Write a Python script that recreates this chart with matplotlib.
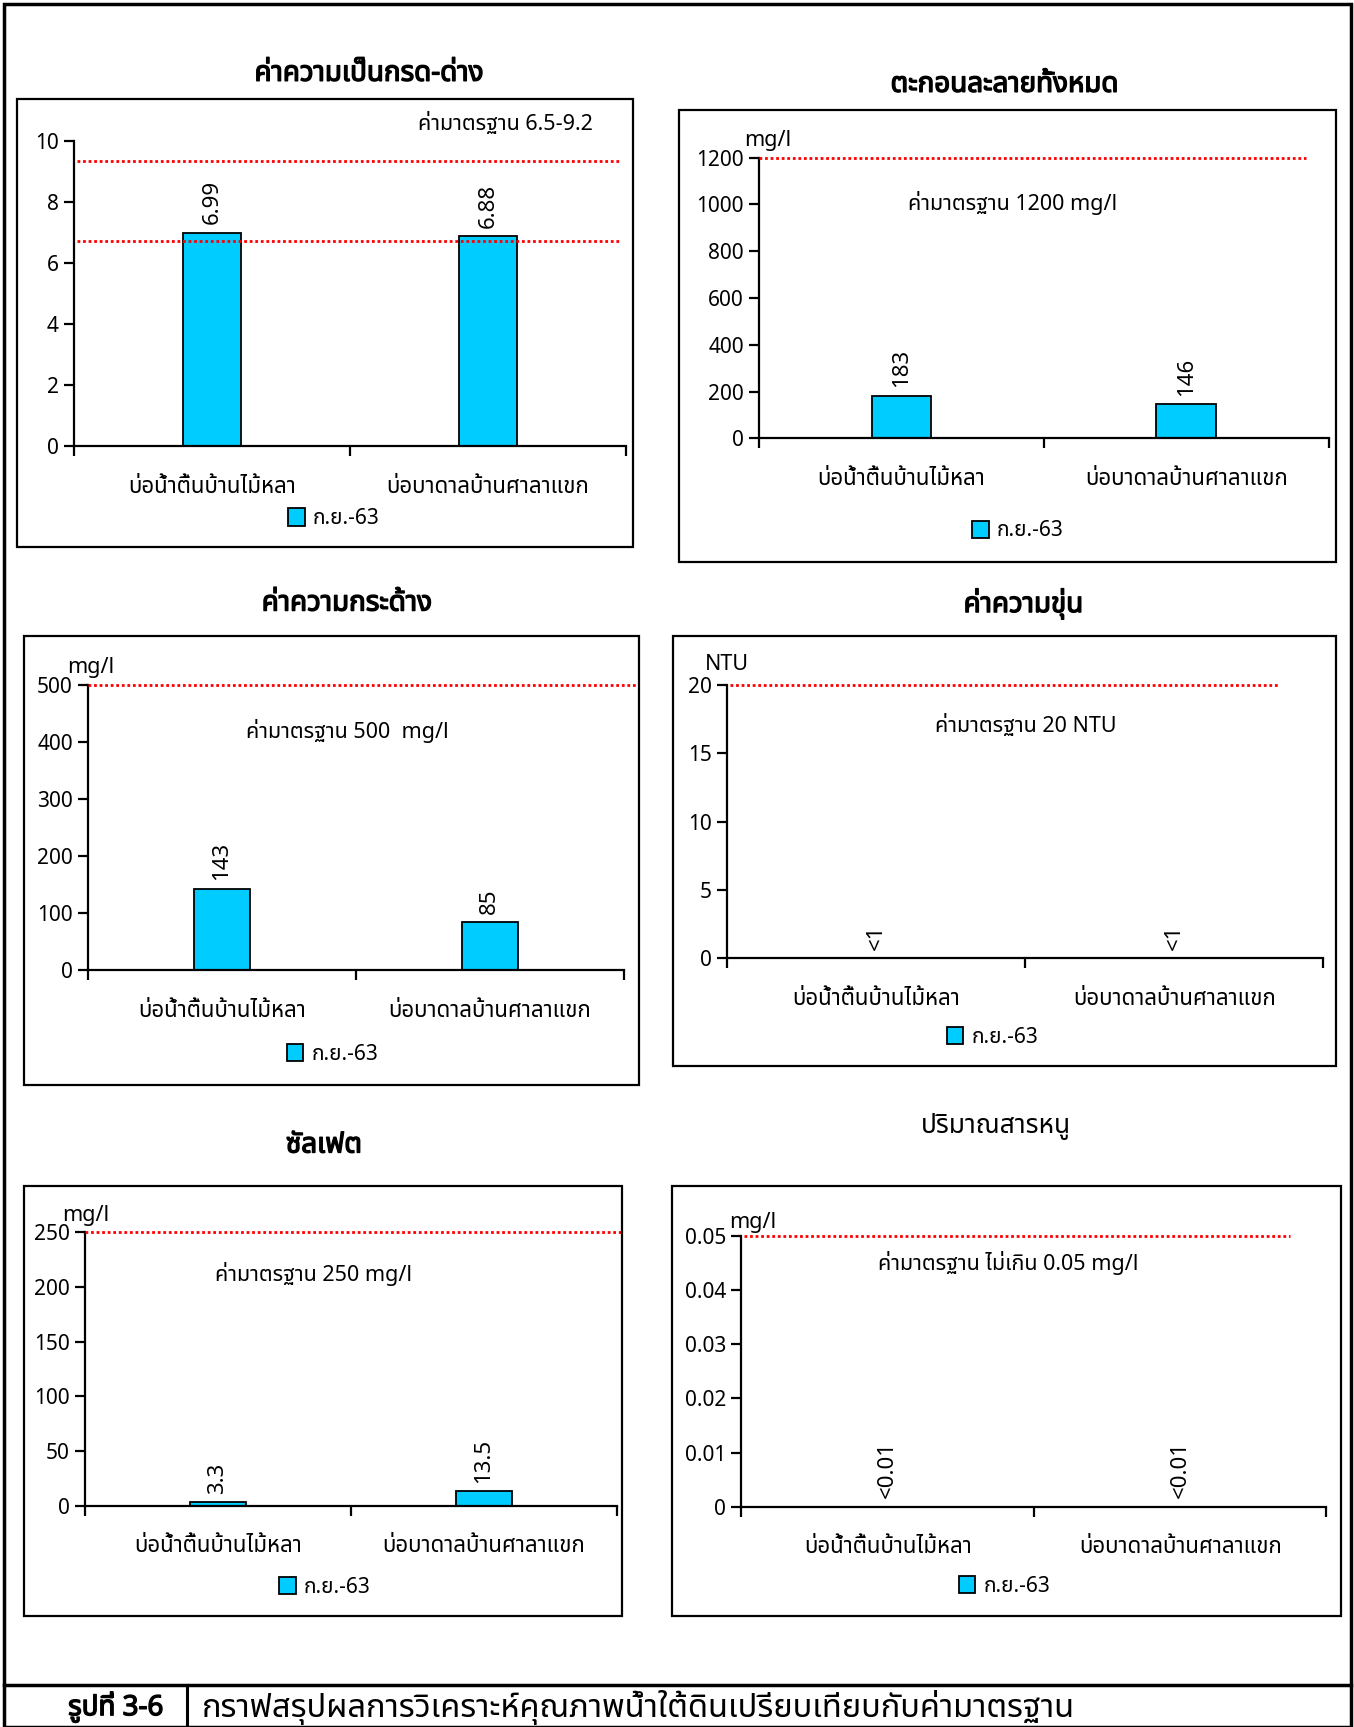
import numpy as np
import matplotlib
matplotlib.use("Agg")
import matplotlib.pyplot as plt
import matplotlib.patheffects as pe
from matplotlib import font_manager
from matplotlib.ft2font import FT2Font
from matplotlib.patches import Rectangle
from matplotlib.lines import Line2D

# ---------------------------------------------------------------------------
# ข้อมูล
# ---------------------------------------------------------------------------
sites = ["บ่อน้ำตื้นบ้านไม้หลา", "บ่อบาดาลบ้านศาลาแขก"]
series_name = "ก.ย.-63"

titles = ["ค่าความเป็นกรด-ด่าง", "ตะกอนละลายทั้งหมด", "ค่าความกระด้าง",
          "ค่าความขุ่น", "ซัลเฟต", "ปริมาณสารหนู"]

ph_values = [6.99, 6.88]
tds_values = [183, 146]
hardness_values = [143, 85]
turbidity_values = [0, 0]          # ต่ำกว่าค่าที่ตรวจวัดได้
sulfate_values = [3.3, 13.5]
arsenic_values = [0, 0]            # ต่ำกว่าค่าที่ตรวจวัดได้

ph_labels = ["6.99", "6.88"]
tds_labels = ["183", "146"]
hardness_labels = ["143", "85"]
turbidity_labels = ["<1", "<1"]
sulfate_labels = ["3.3", "13.5"]
arsenic_labels = ["<0.01", "<0.01"]

standard_lines = [[9.33, 6.73], [1200], [500], [20], [250], [0.05]]
standard_texts = ["ค่ามาตรฐาน 6.5-9.2", "ค่ามาตรฐาน 1200 mg/l",
                  "ค่ามาตรฐาน 500  mg/l", "ค่ามาตรฐาน 20 NTU",
                  "ค่ามาตรฐาน 250 mg/l", "ค่ามาตรฐาน ไม่เกิน 0.05 mg/l"]
units = ["", "mg/l", "mg/l", "NTU", "mg/l", "mg/l"]
y_max = [10, 1200, 500, 20, 250, 0.05]
y_step = [2, 200, 100, 5, 50, 0.01]

caption_no = "รูปที่ 3-6"
caption_text = "กราฟสรุปผลการวิเคราะห์คุณภาพน้ำใต้ดินเปรียบเทียบกับค่ามาตรฐาน"

values = [ph_values, tds_values, hardness_values,
          turbidity_values, sulfate_values, arsenic_values]
labels = [ph_labels, tds_labels, hardness_labels,
          turbidity_labels, sulfate_labels, arsenic_labels]

# ---------------------------------------------------------------------------
# ตำแหน่ง (พิกเซลของภาพอ้างอิงขนาด 1229x1568)
# ---------------------------------------------------------------------------
W, H = 1229.0, 1568.0

axes_px = [(67, 568, 128, 405), (689, 1206, 143, 398),
           (80, 566, 622, 881), (660, 1201, 622, 870),
           (77, 560, 1119, 1367), (673, 1204, 1122, 1368)]
box_px = [(15, 90, 575, 497), (616, 100, 1213, 510),
          (22, 577, 580, 985), (611, 577, 1213, 968),
          (22, 1077, 565, 1467), (610, 1077, 1217, 1467)]
title_px = [(335, 67), (912, 77), (315, 548), (929, 548), (294, 1040), (904, 1022)]
std_px = [(459, 112), (919, 184), (315, 664), (931, 659), (285, 1157), (915, 1147)]
unit_px = [None, (697, 128), (82, 606), (660, 603), (78, 1104), (683, 1110)]
legend_px = [(303, 471), (924, 482), (302, 957), (901, 942), (295, 1441), (912, 1440)]
line_span = [(0.006, 0.99), (0.0, 0.961), (0.0, 1.025),
             (0.004, 0.924), (0.0, 1.008), (0.004, 0.938)]
title_bold = [True, True, True, True, True, False]


def fx(x):
    return x / W


def fy(y):
    return 1 - y / H


# ---------------------------------------------------------------------------
# ฟอนต์ภาษาไทย
# ---------------------------------------------------------------------------
def find_thai_font():
    preferred = ["Noto Sans Thai", "Noto Sans Thai UI", "Garuda", "Loma",
                 "Tlwg Typo", "Waree", "Sawasdee", "Umpush", "Kinnari",
                 "Norasi", "Laksaman"]
    found = {}
    for f in font_manager.fontManager.ttflist:
        try:
            cmap = FT2Font(f.fname).get_charmap()
        except Exception:
            continue
        if 0x0E01 in cmap:
            w = f.weight if isinstance(f.weight, int) else (700 if "bold" in str(f.weight) else 400)
            found.setdefault(f.name, set()).add(w)
    for name in preferred:
        if name in found:
            return name, max(found[name]) >= 600
    if found:
        name = next(iter(found))
        return name, max(found[name]) >= 600
    return "DejaVu Sans", True


thai, has_bold = find_thai_font()
plt.rcParams["font.family"] = [thai, "DejaVu Sans"]


def bold_kw():
    if has_bold:
        return {"fontweight": "bold"}
    # ไม่มีตัวหนา: ใช้เส้นขอบหนาแทน
    return {"path_effects": [pe.withStroke(linewidth=1.0, foreground="black")]}


BAR_COLOR = "#00CCFF"
FS_TICK = 15
FS_LABEL = 16
FS_VALUE = 16
FS_STD = 15.5
FS_LEGEND = 15
FS_TITLE = 20

fig = plt.figure(figsize=(13.54, 17.27), dpi=100)

for i in range(6):
    l, r, t, b = axes_px[i]
    ax = fig.add_axes([fx(l), fy(b), (r - l) / W, (b - t) / H])
    ax.set_facecolor("none")

    x = np.arange(len(sites)) + 0.5
    bars = ax.bar(x, values[i], width=0.21, color=BAR_COLOR,
                  edgecolor="black", linewidth=1.3, label=series_name, zorder=2)
    for xi, vi, lab in zip(x, values[i], labels[i]):
        ax.annotate(lab, (xi, vi), xytext=(0, 6), textcoords="offset points",
                    rotation=90, ha="center", va="bottom", fontsize=FS_VALUE)

    for yv in standard_lines[i]:
        ax.axhline(yv, xmin=line_span[i][0], xmax=line_span[i][1], color="red",
                   linewidth=2, linestyle=(0, (1, 1)), clip_on=False, zorder=3)

    ax.set_xlim(0, 2)
    ax.set_ylim(0, y_max[i])
    ticks = np.arange(0, y_max[i] + y_step[i] / 2, y_step[i])
    ax.set_yticks(ticks)
    ax.set_yticklabels([f"{v:g}" for v in np.round(ticks, 4)], fontsize=FS_TICK)
    ax.set_xticks([0, 1, 2])
    ax.set_xticklabels([])
    ax.set_xticks(x, minor=True)
    ax.set_xticklabels(sites, minor=True, fontsize=FS_LABEL)
    ax.tick_params(axis="x", which="minor", length=0, pad=22)
    ax.tick_params(axis="x", which="major", length=7, width=1.6)
    ax.tick_params(axis="y", length=7, width=1.6, pad=4)
    for side in ["top", "right"]:
        ax.spines[side].set_visible(False)
    for side in ["left", "bottom"]:
        ax.spines[side].set_linewidth(1.6)

    ax.legend(handles=[bars], labels=[series_name], loc="center",
              bbox_to_anchor=(fx(legend_px[i][0]), fy(legend_px[i][1])),
              bbox_transform=fig.transFigure, frameon=False, fontsize=FS_LEGEND,
              handlelength=0.8, handleheight=0.9, handletextpad=0.4,
              borderpad=0, borderaxespad=0)

    # กรอบ, ชื่อกราฟ, ข้อความค่ามาตรฐาน, หน่วย
    x0, y0, x1, y1 = box_px[i]
    fig.patches.append(Rectangle((fx(x0), fy(y1)), (x1 - x0) / W, (y1 - y0) / H,
                                 transform=fig.transFigure, fill=False,
                                 edgecolor="black", linewidth=1.6))
    kw = bold_kw() if title_bold[i] else {}
    fig.text(fx(title_px[i][0]), fy(title_px[i][1]), titles[i], ha="center",
             va="center", fontsize=FS_TITLE if title_bold[i] else 19, **kw)
    fig.text(fx(std_px[i][0]), fy(std_px[i][1]), standard_texts[i],
             ha="center", va="center", fontsize=FS_STD)
    if unit_px[i] is not None:
        fig.text(fx(unit_px[i][0]), fy(unit_px[i][1]), units[i],
                 ha="center", va="center", fontsize=FS_STD)

# กรอบนอกและคำบรรยายภาพ
fig.patches.append(Rectangle((fx(4), 0), (1226 - 4) / W, 1 - 4 / H,
                             transform=fig.transFigure, fill=False,
                             edgecolor="black", linewidth=2.5))
fig.lines.append(Line2D([fx(4), fx(1226)], [fy(1530), fy(1530)],
                        transform=fig.transFigure, color="black", linewidth=2.5))
fig.lines.append(Line2D([fx(170), fx(170)], [fy(1530), 0],
                        transform=fig.transFigure, color="black", linewidth=2.2))
fig.text(fx(105), fy(1550), caption_no, ha="center", va="center",
         fontsize=20, **bold_kw())
fig.text(fx(183), fy(1550), caption_text, ha="left", va="center", fontsize=23.5)

fig.savefig("out.png", dpi=100)
